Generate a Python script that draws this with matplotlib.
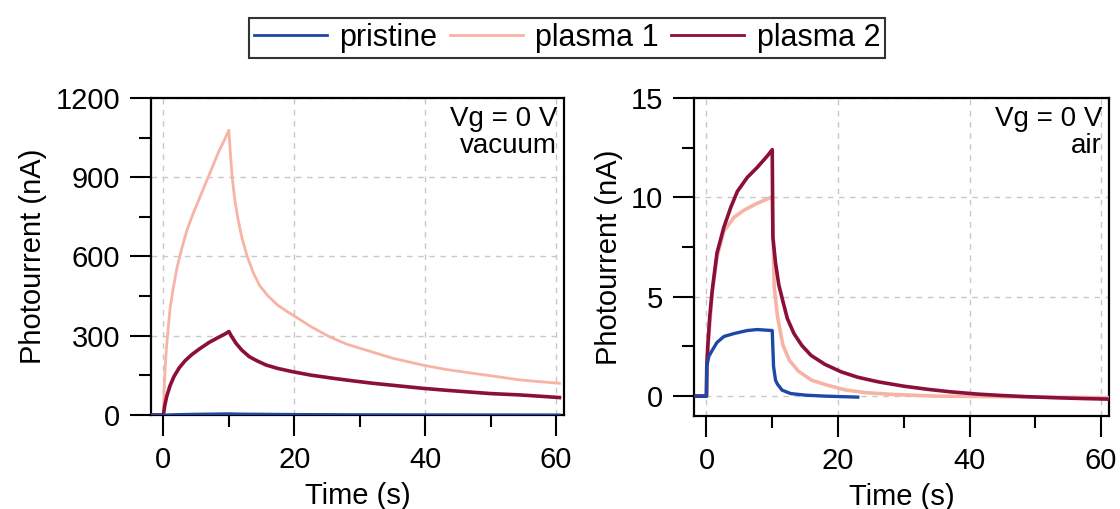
import matplotlib
matplotlib.use("Agg")
import matplotlib.pyplot as plt
from matplotlib.ticker import MultipleLocator

plt.rcParams["font.family"] = ["Liberation Sans", "DejaVu Sans"]

# vacuum panel (nA)
t_vac_pristine = [-2, 0, 2, 5, 10, 12, 20, 30, 40, 60.5]
i_vac_pristine = [0, 0, 2, 3.5, 5, 4, 2.5, 1.5, 1, 0.5]

t_vac_p1 = [-2, 0, 0.1, 0.25, 0.45, 0.7, 1.0, 1.5, 2.1, 2.8, 3.6, 4.5, 5.5, 6.5,
            7.5, 8.5, 9.3, 10.0, 10.2, 10.5, 10.9, 11.4, 12.0, 12.8, 13.7, 14.7,
            16, 17.5, 19, 20.3, 22.5, 25.3, 28, 30.9, 35, 39.6, 43, 47.2, 51,
            54.4, 57.5, 60.5]
i_vac_p1 = [0, 0, 90, 170, 250, 320, 400, 480, 560, 630, 700, 760, 820, 880,
            940, 1000, 1040, 1078, 1000, 900, 815, 740, 670, 600, 540, 490,
            450, 415, 390, 370, 335, 297, 268, 246, 215, 189, 173, 158, 145,
            133, 126, 120]

t_vac_p2 = [-2, 0, 0.2, 0.5, 1.0, 1.6, 2.4, 3.3, 4.3, 5.5, 7, 8.5, 9.5, 10,
            10.4, 11.1, 12, 13.1, 14.3, 15.7, 17.5, 19.7, 22.5, 25.9, 29, 32,
            36, 39.6, 43, 46.2, 50, 54.4, 57.5, 60.5]
i_vac_p2 = [0, 0, 35, 70, 110, 145, 178, 205, 228, 250, 275, 295, 308, 316,
            298, 271, 245, 221, 205, 189, 176, 164, 151, 139, 129, 120, 110,
            101, 94, 88, 81, 76, 71, 66]

# air panel (nA)
t_air_pristine = [-1.5, 0, 0.05, 0.36, 0.87, 1.6, 2.65, 4.2, 6.2, 7.7, 10.0,
                  10.2, 10.5, 10.8, 11.5, 12.8, 15, 18, 23]
i_air_pristine = [0, 0, 1.5, 2.0, 2.3, 2.7, 3.0, 3.15, 3.3, 3.35, 3.3,
                  1.5, 0.8, 0.6, 0.3, 0.13, 0.05, 0.0, -0.05]

t_air_p1 = [-1.5, 0, 0.05, 0.36, 0.87, 1.6, 2.65, 4.2, 5.7, 7.7, 9.8, 10.0,
            10.3, 10.8, 11.6, 12.6, 14.0, 16.0, 18.4, 21, 24, 28.6, 35, 45, 57, 61]
i_air_p1 = [0, 0, 1.5, 3.0, 5.2, 7.0, 8.3, 9.0, 9.35, 9.7, 10.0, 10.0,
            5.5, 4.0, 2.6, 1.8, 1.25, 0.8, 0.55, 0.32, 0.18, 0.08, 0.0, -0.03, -0.07, -0.08]

t_air_p2 = [-1.5, 0, 0.05, 0.2, 0.5, 0.87, 1.6, 2.65, 3.7, 4.7, 6.2, 7.7, 9.3,
            10.0, 10.1, 10.5, 11.0, 11.6, 12.3, 13.3, 14.5, 15.9, 18, 20.5, 23,
            26.1, 30, 33.7, 37, 41.3, 45, 48.9, 53, 57.1, 61]
i_air_p2 = [0, 0, 1.5, 2.5, 4.0, 5.3, 7.2, 8.5, 9.5, 10.3, 11.0, 11.5, 12.1,
            12.4, 8.0, 6.7, 5.6, 4.8, 3.9, 3.15, 2.55, 2.05, 1.6, 1.22, 0.95,
            0.72, 0.5, 0.34, 0.22, 0.1, 0.03, -0.03, -0.08, -0.12, -0.15]

c_pristine = "#1d48a6"
c_p1 = "#f7b4a4"
c_p2 = "#8b0f3b"

fig = plt.figure(figsize=(11.2, 5.09), dpi=100)
ax1 = fig.add_axes([0.1348, 0.1847, 0.3688, 0.6228])
ax2 = fig.add_axes([0.6196, 0.1827, 0.3706, 0.6248])

ax1.plot(t_vac_p1, i_vac_p1, color=c_p1, lw=2.0, zorder=3)
ax1.plot(t_vac_p2, i_vac_p2, color=c_p2, lw=2.6, zorder=4)
ax1.plot(t_vac_pristine, i_vac_pristine, color=c_pristine, lw=2.0, zorder=5)

h1, = ax2.plot(t_air_p1, i_air_p1, color=c_p1, lw=2.6, zorder=3, label="plasma 1")
h2, = ax2.plot(t_air_p2, i_air_p2, color=c_p2, lw=2.6, zorder=4, label="plasma 2")
h0, = ax2.plot(t_air_pristine, i_air_pristine, color=c_pristine, lw=2.4, zorder=5,
               label="pristine")

grid_kw = dict(color="#c8c8c8", ls=(0, (4, 4)), lw=1.0)

for ax, ylim, ymaj, ymin, note in [
    (ax1, (0, 1200), 300, 150, "Vg = 0 V\nvacuum"),
    (ax2, (-1.0, 15), 5, 2.5, "Vg = 0 V\nair"),
]:
    ax.set_xlim(-1.9, 61.2)
    ax.set_ylim(*ylim)
    ax.xaxis.set_major_locator(MultipleLocator(20))
    ax.xaxis.set_minor_locator(MultipleLocator(10))
    ax.yaxis.set_major_locator(MultipleLocator(ymaj))
    ax.yaxis.set_minor_locator(MultipleLocator(ymin))
    ax.grid(True, which="major", **grid_kw)
    ax.set_axisbelow(True)
    ax.tick_params(which="major", direction="out", length=15, width=1.5,
                   labelsize=21, pad=7)
    ax.tick_params(which="minor", direction="out", length=8.5, width=1.5)
    for s in ax.spines.values():
        s.set_linewidth(1.6)
    ax.set_xlabel("Time (s)", fontsize=21, labelpad=6)
    ax.set_ylabel("Photourrent (nA)", fontsize=21, labelpad=6)
    ax.text(0.983, 0.975, note, transform=ax.transAxes, ha="right", va="top",
            fontsize=20, linespacing=1.05, multialignment="right")

leg = fig.legend([h0, h1, h2], ["pristine", "plasma 1", "plasma 2"],
                 loc="center", bbox_to_anchor=(567 / 1120, 1 - 38 / 509), ncol=3,
                 fontsize=22, frameon=True, fancybox=False, edgecolor="black",
                 handlelength=2.4, handletextpad=0.4, columnspacing=0.4,
                 borderpad=0.15, borderaxespad=0)
leg.get_frame().set_linewidth(1.5)
for line in leg.get_lines():
    line.set_linewidth(2.0)

fig.savefig("out.png", dpi=100)
